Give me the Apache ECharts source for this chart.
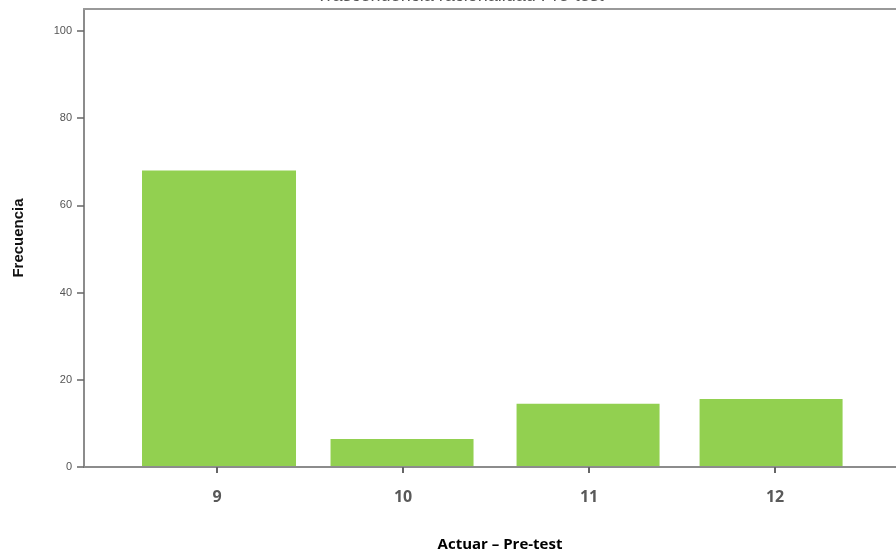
<!DOCTYPE html>
<html>
<head>
<meta charset="utf-8">
<script src="https://cdn.jsdelivr.net/npm/echarts@6/dist/echarts.min.js"></script>
<style>
html,body{margin:0;padding:0;background:#fff;}
#chart{width:896px;height:556px;}
</style>
</head>
<body>
<div id="chart"></div>
<script>
const categories = [9, 10, 11, 12];
const frequencies = [68, 6.4, 14.5, 15.6];
const yTicks = [0, 20, 40, 60, 80, 100];

const chart = echarts.init(document.getElementById('chart'), null, {renderer: 'canvas'});
const data = categories.map((c, i) => [c, frequencies[i]]);
const barShift = [2, -1, -1, -4];

chart.setOption({
  animation: false,
  backgroundColor: '#ffffff',
  title: [
    {
      text: 'Trascendencia racionalidad Pre-test',
      left: 455, top: -18, textAlign: 'center',
      textStyle: {fontFamily: 'Liberation Sans', fontSize: 18, fontWeight: 'normal', color: '#555'}
    },
    {
      text: 'Actuar – Pre-test',
      left: 495, top: 532, textAlign: 'center',
      textStyle: {fontFamily: 'Open Sans', fontSize: 15, fontWeight: 'bold', color: '#000'}
    }
  ],
  grid: {left: 84, top: 9, right: 0, bottom: 89},
  xAxis: [{
    type: 'value',
    min: 8.285, max: 12.65,
    splitLine: {show: false},
    axisLine: {show: true, lineStyle: {color: '#8c8c8c', width: 2}},
    axisTick: {show: true, customValues: categories, length: 6, lineStyle: {color: '#666', width: 2}},
    axisLabel: {
      customValues: categories, margin: 22,
      fontFamily: 'Open Sans', fontSize: 16, fontWeight: 'bold', color: '#595959'
    }
  }, {
    type: 'value', position: 'top',
    min: 8.285, max: 12.65,
    splitLine: {show: false},
    axisLine: {show: true, lineStyle: {color: '#999', width: 2}},
    axisTick: {show: false},
    axisLabel: {show: false}
  }],
  yAxis: {
    type: 'value',
    min: 0, max: 105,
    name: 'Frecuencia', nameLocation: 'middle', nameGap: 58, nameRotate: 90,
    nameTextStyle: {fontFamily: 'Liberation Sans', fontSize: 15, fontWeight: 'bold', color: '#111'},
    splitLine: {show: false},
    axisLine: {show: true, lineStyle: {color: '#8c8c8c', width: 2}},
    axisTick: {show: true, customValues: yTicks, length: 7, lineStyle: {color: '#666', width: 1.5}},
    axisLabel: {customValues: yTicks, margin: 12, fontFamily: 'Liberation Sans', fontSize: 11, color: '#555'}
  },
  series: [{
    type: 'custom',
    xAxisIndex: 0,
    data: data,
    encode: {x: 0, y: 1},
    renderItem: function (params, api) {
      const c = api.value(0), v = api.value(1);
      const top = api.coord([c, v]);
      const base = api.coord([c, 0]);
      const w = params.dataIndex === 0 ? 154 : 143;
      const dx = barShift[params.dataIndex];
      return {
        type: 'rect',
        shape: {x: top[0] - w / 2 + dx, y: top[1], width: w, height: base[1] - top[1] - 1},
        style: {fill: '#92d050'}
      };
    }
  }]
});
</script>
</body>
</html>
